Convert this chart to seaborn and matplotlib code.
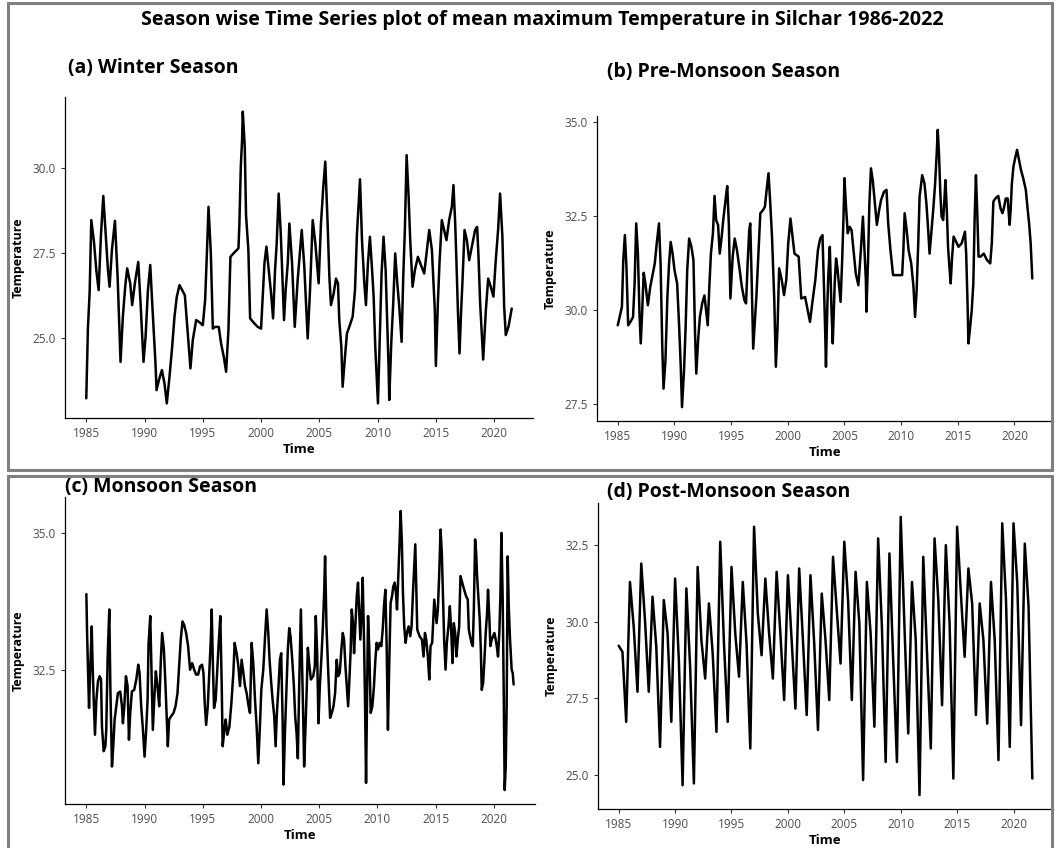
import numpy as np
import pandas as pd
import matplotlib
matplotlib.use("Agg")
import matplotlib.pyplot as plt
from matplotlib.ticker import MultipleLocator, FormatStrFormatter
from matplotlib.patches import Rectangle
import seaborn as sns

# Winter season
winter_year = [
    1985.00, 1985.14, 1985.29, 1985.43, 1985.66, 1985.86, 1986.06, 1986.26, 1986.46, 1986.66,
    1986.86, 1987.00, 1987.20, 1987.46, 1987.69, 1987.86, 1987.94, 1988.14, 1988.34, 1988.51,
    1988.77, 1988.94, 1989.17, 1989.46, 1989.66, 1989.91, 1990.09, 1990.29, 1990.49, 1990.66,
    1990.94, 1991.03, 1991.23, 1991.49, 1991.71, 1991.91, 1992.14, 1992.37, 1992.57, 1992.77,
    1993.00, 1993.23, 1993.46, 1993.69, 1993.94, 1994.14, 1994.43, 1994.66, 1995.00, 1995.20,
    1995.34, 1995.49, 1995.69, 1995.86, 1996.06, 1996.37, 1996.57, 1996.80, 1997.00, 1997.20,
    1997.37, 1997.63, 1998.06, 1998.14, 1998.26, 1998.37, 1998.43, 1998.60, 1998.71, 1998.91,
    1999.06, 1999.43, 1999.71, 2000.00, 2000.14, 2000.29, 2000.46, 2000.66, 2000.86, 2001.03,
    2001.20, 2001.34, 2001.51, 2001.69, 2001.83, 2001.97, 2002.11, 2002.29, 2002.43, 2002.66,
    2002.89, 2003.14, 2003.49, 2003.71, 2004.00, 2004.20, 2004.43, 2004.66, 2004.94, 2005.14,
    2005.34, 2005.51, 2005.71, 2005.86, 2006.00, 2006.23, 2006.43, 2006.60, 2006.71, 2006.89,
    2007.00, 2007.20, 2007.37, 2007.57, 2007.86, 2008.06, 2008.23, 2008.37, 2008.49, 2008.66,
    2008.86, 2009.00, 2009.17, 2009.34, 2009.51, 2009.66, 2009.80, 2009.91, 2010.03, 2010.20,
    2010.34, 2010.51, 2010.69, 2010.83, 2010.94, 2011.00, 2011.17, 2011.34, 2011.51, 2011.69,
    2011.86, 2012.06, 2012.20, 2012.34, 2012.49, 2012.66, 2012.80, 2013.00, 2013.20, 2013.46,
    2013.66, 2014.00, 2014.20, 2014.43, 2014.66, 2014.80, 2014.91, 2015.00, 2015.17, 2015.31,
    2015.51, 2015.71, 2015.91, 2016.14, 2016.37, 2016.51, 2016.66, 2016.77, 2016.89, 2017.03,
    2017.17, 2017.29, 2017.46, 2017.66, 2017.86, 2018.14, 2018.37, 2018.54, 2018.66, 2018.80,
    2018.94, 2019.06, 2019.29, 2019.49, 2019.71, 2019.94, 2020.14, 2020.34, 2020.51, 2020.71,
    2020.86, 2021.00, 2021.23, 2021.51,
]
winter_temp = [
    23.24, 25.29, 26.37, 28.48, 27.84, 27.01, 26.42, 28.04, 29.19, 28.09,
    27.01, 26.52, 27.60, 28.46, 26.81, 25.15, 24.31, 25.64, 26.52, 27.06,
    26.62, 25.98, 26.62, 27.25, 26.03, 24.31, 25.05, 26.42, 27.16, 26.03,
    24.26, 23.48, 23.77, 24.07, 23.68, 23.09, 23.87, 24.75, 25.64, 26.23,
    26.57, 26.42, 26.27, 25.25, 24.12, 24.95, 25.54, 25.49, 25.39, 26.13,
    27.40, 28.87, 27.50, 25.29, 25.34, 25.34, 24.85, 24.46, 24.02, 25.25,
    27.40, 27.50, 27.65, 28.38, 30.05, 30.83, 31.67, 30.64, 28.63, 27.60,
    25.59, 25.44, 25.34, 25.29, 26.23, 27.21, 27.70, 27.01, 26.32, 25.59,
    27.01, 27.79, 29.26, 28.09, 26.81, 25.54, 26.42, 27.21, 28.38, 27.21,
    25.34, 26.72, 28.19, 27.11, 25.00, 26.42, 28.48, 27.79, 26.62, 28.38,
    29.46, 30.20, 28.38, 26.81, 25.98, 26.32, 26.76, 26.62, 25.54, 24.75,
    23.58, 24.46, 25.15, 25.34, 25.64, 26.42, 28.09, 28.97, 29.68, 27.89,
    26.62, 25.98, 27.21, 27.99, 27.11, 26.23, 24.75, 23.97, 23.09, 25.25,
    26.91, 27.99, 27.01, 25.44, 24.17, 23.19, 24.85, 26.03, 27.50, 26.62,
    25.93, 24.90, 26.81, 28.19, 30.39, 29.17, 27.89, 26.52, 27.01, 27.40,
    27.21, 26.91, 27.50, 28.19, 27.60, 26.62, 25.83, 24.19, 26.03, 27.21,
    28.48, 28.19, 27.89, 28.48, 28.87, 29.51, 28.38, 27.21, 25.83, 24.56,
    25.83, 26.72, 28.19, 27.89, 27.30, 27.79, 28.19, 28.28, 27.40, 26.03,
    25.15, 24.38, 25.83, 26.76, 26.52, 26.23, 27.30, 28.19, 29.26, 27.99,
    25.93, 25.10, 25.34, 25.88,
]

# Pre-monsoon season
pre_year = [
    1985.00, 1985.14, 1985.37, 1985.49, 1985.63, 1985.77, 1985.92, 1986.12, 1986.35, 1986.49,
    1986.63, 1986.78, 1986.92, 1987.03, 1987.15, 1987.29, 1987.44, 1987.66, 1987.87, 1988.07,
    1988.27, 1988.44, 1988.64, 1988.78, 1988.93, 1989.04, 1989.21, 1989.38, 1989.53, 1989.67,
    1989.84, 1990.01, 1990.24, 1990.42, 1990.56, 1990.67, 1990.85, 1990.99, 1991.13, 1991.30,
    1991.50, 1991.68, 1991.82, 1991.93, 1992.11, 1992.25, 1992.45, 1992.65, 1992.79, 1992.94,
    1993.08, 1993.22, 1993.40, 1993.54, 1993.68, 1993.85, 1994.00, 1994.17, 1994.31, 1994.51,
    1994.66, 1994.80, 1994.94, 1995.14, 1995.32, 1995.52, 1995.72, 1995.95, 1996.17, 1996.32,
    1996.46, 1996.60, 1996.69, 1996.81, 1996.95, 1997.09, 1997.23, 1997.41, 1997.58, 1997.81,
    1997.98, 1998.15, 1998.30, 1998.44, 1998.61, 1998.81, 1998.95, 1999.10, 1999.24, 1999.47,
    1999.67, 1999.87, 2000.04, 2000.24, 2000.59, 2000.96, 2001.19, 2001.53, 2001.76, 2001.96,
    2002.16, 2002.43, 2002.66, 2002.86, 2003.06, 2003.17, 2003.29, 2003.37, 2003.49, 2003.57,
    2003.71, 2003.86, 2003.97, 2004.14, 2004.26, 2004.37, 2004.51, 2004.66, 2004.80, 2004.91,
    2005.00, 2005.14, 2005.29, 2005.46, 2005.63, 2005.80, 2006.00, 2006.23, 2006.43, 2006.63,
    2006.77, 2006.89, 2006.94, 2007.09, 2007.20, 2007.34, 2007.51, 2007.66, 2007.86, 2008.06,
    2008.23, 2008.49, 2008.71, 2008.86, 2009.06, 2009.29, 2009.57, 2009.91, 2010.09, 2010.20,
    2010.31, 2010.49, 2010.66, 2010.89, 2011.09, 2011.23, 2011.37, 2011.51, 2011.63, 2011.86,
    2012.06, 2012.23, 2012.37, 2012.51, 2012.66, 2012.83, 2013.00, 2013.14, 2013.23, 2013.34,
    2013.46, 2013.57, 2013.71, 2013.80, 2013.91, 2014.03, 2014.14, 2014.26, 2014.37, 2014.49,
    2014.63, 2014.86, 2015.06, 2015.34, 2015.51, 2015.63, 2015.74, 2015.86, 2015.94, 2016.09,
    2016.23, 2016.37, 2016.49, 2016.60, 2016.71, 2016.83, 2017.00, 2017.29, 2017.57, 2017.86,
    2018.00, 2018.14, 2018.31, 2018.57, 2018.77, 2018.94, 2019.09, 2019.23, 2019.40, 2019.57,
    2019.66, 2019.77, 2019.91, 2020.06, 2020.23, 2020.37, 2020.57, 2020.77, 2021.00, 2021.14,
    2021.29, 2021.43, 2021.57,
]
pre_temp = [
    29.60, 29.78, 30.09, 31.33, 31.99, 31.15, 29.60, 29.69, 29.82, 30.71,
    32.30, 31.50, 29.91, 29.12, 29.91, 30.99, 30.71, 30.13, 30.62, 30.93,
    31.24, 31.77, 32.30, 31.24, 29.03, 27.92, 28.67, 30.35, 31.24, 31.81,
    31.50, 31.06, 30.71, 29.56, 28.50, 27.43, 28.41, 29.56, 31.06, 31.90,
    31.68, 31.33, 29.38, 28.32, 29.29, 29.82, 30.18, 30.39, 30.00, 29.60,
    30.62, 31.50, 32.04, 33.03, 32.39, 32.26, 31.50, 31.95, 32.39, 32.92,
    33.29, 32.30, 30.31, 31.42, 31.90, 31.59, 31.15, 30.62, 30.27, 30.18,
    31.24, 32.12, 32.30, 30.88, 28.98, 29.65, 30.35, 31.50, 32.57, 32.65,
    32.74, 33.23, 33.63, 32.92, 31.95, 30.27, 28.50, 29.56, 31.11, 30.80,
    30.40, 30.80, 31.77, 32.43, 31.50, 31.42, 30.31, 30.35, 30.00, 29.69,
    30.18, 30.80, 31.59, 31.90, 31.99, 30.88, 29.56, 28.50, 30.09, 30.88,
    31.68, 30.00, 29.12, 30.71, 31.37, 31.15, 30.71, 30.22, 31.33, 32.39,
    33.50, 32.74, 32.04, 32.21, 32.12, 31.59, 30.97, 30.66, 31.50, 32.48,
    31.59, 30.80, 29.96, 31.42, 32.83, 33.76, 33.41, 32.92, 32.26, 32.65,
    32.92, 33.14, 33.19, 32.30, 31.59, 30.93, 30.93, 30.93, 30.93, 31.59,
    32.57, 32.12, 31.59, 31.24, 30.62, 29.82, 30.53, 31.77, 33.01, 33.58,
    33.36, 32.83, 32.21, 31.50, 32.04, 32.65, 33.36, 34.16, 34.78, 34.16,
    33.10, 32.48, 32.39, 32.83, 33.45, 32.65, 31.68, 31.15, 30.71, 31.37,
    31.95, 31.81, 31.68, 31.77, 31.95, 32.08, 31.50, 30.18, 29.12, 29.56,
    30.00, 30.71, 32.48, 33.58, 32.65, 31.42, 31.42, 31.50, 31.33, 31.24,
    31.77, 32.88, 32.96, 33.03, 32.70, 32.57, 32.74, 32.96, 32.96, 32.26,
    32.65, 33.36, 33.81, 34.03, 34.25, 34.03, 33.72, 33.50, 33.19, 32.74,
    32.30, 31.77, 30.84,
]

# Monsoon season
mon_year = [
    1985.00, 1985.06, 1985.14, 1985.23, 1985.34, 1985.46, 1985.54, 1985.63, 1985.74, 1985.86,
    1986.00, 1986.14, 1986.26, 1986.34, 1986.49, 1986.63, 1986.71, 1986.83, 1986.97, 1987.06,
    1987.20, 1987.31, 1987.43, 1987.57, 1987.71, 1987.91, 1988.06, 1988.14, 1988.26, 1988.40,
    1988.54, 1988.66, 1988.77, 1988.91, 1989.11, 1989.29, 1989.46, 1989.57, 1989.71, 1989.86,
    1990.00, 1990.14, 1990.26, 1990.34, 1990.49, 1990.57, 1990.71, 1990.86, 1990.97, 1991.11,
    1991.26, 1991.40, 1991.51, 1991.66, 1991.80, 1991.91, 1992.00, 1992.11, 1992.29, 1992.49,
    1992.66, 1992.83, 1992.97, 1993.11, 1993.26, 1993.40, 1993.57, 1993.74, 1993.91, 1994.09,
    1994.26, 1994.43, 1994.60, 1994.77, 1994.94, 1995.06, 1995.17, 1995.29, 1995.43, 1995.57,
    1995.69, 1995.77, 1995.86, 1995.97, 1996.11, 1996.23, 1996.37, 1996.51, 1996.63, 1996.71,
    1996.86, 1996.97, 1997.11, 1997.29, 1997.46, 1997.63, 1997.74, 1997.91, 1998.06, 1998.20,
    1998.34, 1998.49, 1998.63, 1998.77, 1998.94, 1999.06, 1999.20, 1999.34, 1999.49, 1999.63,
    1999.77, 1999.91, 2000.03, 2000.20, 2000.34, 2000.49, 2000.63, 2000.74, 2000.86, 2001.00,
    2001.14, 2001.26, 2001.37, 2001.51, 2001.63, 2001.74, 2001.86, 2001.94, 2002.06, 2002.20,
    2002.31, 2002.43, 2002.54, 2002.69, 2002.83, 2002.94, 2003.06, 2003.17, 2003.29, 2003.43,
    2003.54, 2003.63, 2003.71, 2003.83, 2003.94, 2004.03, 2004.14, 2004.29, 2004.49, 2004.63,
    2004.71, 2004.83, 2004.94, 2005.06, 2005.20, 2005.31, 2005.43, 2005.51, 2005.63, 2005.74,
    2005.86, 2005.94, 2006.09, 2006.23, 2006.37, 2006.51, 2006.63, 2006.77, 2006.91, 2007.03,
    2007.14, 2007.26, 2007.37, 2007.49, 2007.60, 2007.71, 2007.80, 2007.91, 2008.00, 2008.11,
    2008.23, 2008.34, 2008.43, 2008.54, 2008.66, 2008.74, 2008.86, 2008.94, 2009.03, 2009.11,
    2009.20, 2009.31, 2009.43, 2009.57, 2009.71, 2009.83, 2009.94, 2010.06, 2010.20, 2010.34,
    2010.46, 2010.57, 2010.69, 2010.80, 2010.91, 2011.03, 2011.14, 2011.26, 2011.37, 2011.49,
    2011.60, 2011.69, 2011.80, 2011.91, 2012.00, 2012.11, 2012.20, 2012.31, 2012.43, 2012.54,
    2012.69, 2012.83, 2012.94, 2013.06, 2013.17, 2013.26, 2013.34, 2013.43, 2013.63, 2013.83,
    2013.97, 2014.09, 2014.20, 2014.34, 2014.46, 2014.57, 2014.71, 2014.89, 2015.00, 2015.09,
    2015.20, 2015.31, 2015.43, 2015.54, 2015.63, 2015.74, 2015.86, 2015.97, 2016.11, 2016.23,
    2016.34, 2016.46, 2016.57, 2016.69, 2016.80, 2016.91, 2017.03, 2017.14, 2017.29, 2017.46,
    2017.63, 2017.77, 2017.86, 2017.97, 2018.09, 2018.20, 2018.29, 2018.40, 2018.49, 2018.57,
    2018.69, 2018.80, 2018.89, 2018.97, 2019.09, 2019.20, 2019.31, 2019.43, 2019.51, 2019.63,
    2019.71, 2019.83, 2019.94, 2020.06, 2020.17, 2020.26, 2020.37, 2020.49, 2020.57, 2020.66,
    2020.77, 2020.86, 2020.94, 2021.03, 2021.11, 2021.20, 2021.29, 2021.40, 2021.54, 2021.63,
    2021.71,
]
mon_temp = [
    33.88, 33.20, 32.50, 31.80, 32.56, 33.29, 32.56, 31.95, 31.31, 31.95,
    32.29, 32.38, 32.32, 31.46, 31.01, 31.10, 31.40, 32.74, 33.60, 32.20,
    30.73, 31.10, 31.59, 31.83, 32.07, 32.10, 31.83, 31.52, 31.83, 32.38,
    32.20, 31.22, 31.71, 32.10, 32.13, 32.32, 32.59, 32.44, 31.83, 31.40,
    30.91, 31.40, 31.95, 32.96, 33.48, 32.74, 31.40, 32.07, 32.47, 32.20,
    31.83, 32.68, 33.17, 32.87, 32.20, 31.59, 31.10, 31.59, 31.65, 31.71,
    31.83, 32.07, 32.56, 33.05, 33.38, 33.32, 33.17, 32.93, 32.50, 32.62,
    32.50, 32.41, 32.41, 32.56, 32.59, 32.44, 31.89, 31.49, 31.83, 32.50,
    33.05, 33.60, 32.68, 31.80, 31.95, 32.44, 32.99, 33.48, 32.20, 31.10,
    31.40, 31.59, 31.31, 31.46, 31.89, 32.44, 32.99, 32.80, 32.56, 32.20,
    32.68, 32.44, 32.20, 32.07, 31.83, 31.71, 32.99, 32.62, 31.95, 31.46,
    30.79, 31.46, 32.13, 32.50, 33.05, 33.60, 33.17, 32.68, 32.32, 31.95,
    31.65, 31.10, 31.71, 32.20, 32.68, 32.80, 31.59, 30.40, 31.34, 32.20,
    32.87, 33.26, 33.11, 32.68, 32.20, 31.65, 31.34, 30.88, 32.26, 33.60,
    32.56, 31.65, 30.73, 31.46, 32.20, 32.90, 32.62, 32.32, 32.38, 32.56,
    33.48, 32.80, 31.52, 32.20, 32.74, 33.23, 33.90, 34.57, 33.29, 32.68,
    32.07, 31.62, 31.71, 31.83, 32.07, 32.68, 32.38, 32.44, 32.87, 33.17,
    33.05, 32.56, 32.20, 31.83, 32.32, 32.87, 33.60, 33.35, 32.80, 33.29,
    33.84, 34.09, 33.60, 33.05, 33.60, 34.18, 32.99, 31.95, 30.43, 31.83,
    33.48, 32.87, 31.71, 31.83, 32.20, 32.68, 32.99, 32.87, 32.99, 32.93,
    33.23, 33.66, 33.96, 32.93, 31.40, 32.68, 33.72, 33.84, 34.02, 34.09,
    33.90, 33.60, 34.21, 34.82, 35.40, 34.82, 33.90, 33.29, 32.99, 33.17,
    33.29, 33.11, 33.29, 33.90, 34.39, 34.79, 34.09, 33.23, 33.11, 33.05,
    32.74, 33.17, 33.05, 32.74, 32.32, 32.93, 32.99, 33.78, 33.54, 33.35,
    33.60, 34.21, 35.06, 34.63, 33.90, 33.05, 32.50, 32.99, 33.29, 33.66,
    33.23, 32.62, 33.35, 33.17, 32.74, 33.05, 33.29, 34.21, 34.09, 33.96,
    33.84, 33.78, 33.23, 33.11, 32.99, 32.93, 33.60, 34.88, 34.63, 34.21,
    33.78, 33.41, 32.87, 32.13, 32.26, 32.68, 33.17, 33.54, 33.96, 33.41,
    32.93, 33.05, 33.11, 33.17, 33.05, 32.93, 32.74, 33.23, 33.84, 35.00,
    33.78, 32.07, 30.30, 30.73, 31.83, 34.57, 33.66, 33.05, 32.50, 32.44,
    32.23,
]

# Post-monsoon season: Oct, Nov, Dec of each year 1985-2021
post_temp = [
    29.22, 29.02, 26.74, 31.30, 29.84, 27.72, 31.90, 30.05, 27.72, 30.82, 29.18, 25.92,
    30.71, 29.62, 26.74, 31.41, 28.75, 24.67, 31.09, 28.53, 24.73, 31.79, 29.40, 28.15,
    30.60, 28.97, 26.41, 32.61, 29.29, 26.74, 31.79, 29.62, 28.21, 31.30, 29.29, 25.87,
    33.10, 30.27, 28.91, 31.41, 29.62, 28.15, 31.63, 29.62, 27.45, 31.52, 29.40, 27.17,
    31.74, 29.40, 26.96, 31.52, 29.29, 26.47, 30.92, 29.40, 27.45, 32.12, 30.38, 28.64,
    32.61, 30.71, 27.45, 31.63, 29.95, 24.84, 31.30, 29.62, 26.58, 32.72, 29.84, 25.43,
    32.23, 28.75, 25.43, 33.42, 29.84, 26.36, 31.30, 29.40, 24.35, 32.12, 28.97, 25.87,
    32.72, 30.71, 27.28, 32.50, 29.95, 24.89, 33.10, 30.92, 28.86, 31.74, 30.60, 26.96,
    30.60, 29.40, 26.68, 31.30, 29.40, 25.49, 33.21, 30.71, 25.92, 33.21, 31.25, 26.63,
    32.55, 30.49, 24.89,
]
post_year = 1985 + np.arange(len(post_temp)) / 3

main_title = "Season wise Time Series plot of mean maximum Temperature in Silchar 1986-2022"
panel_titles = ["(a) Winter Season", "(b) Pre-Monsoon Season",
                "(c) Monsoon Season", "(d) Post-Monsoon Season"]

sns.set_style("ticks")
plt.rcParams['font.family'] = ['Open Sans', 'DejaVu Sans']
plt.rcParams['text.color'] = 'black'
plt.rcParams['axes.labelcolor'] = 'black'

W, H = 1055, 848
fig = plt.figure(figsize=(W / 100, H / 100), dpi=100)


def box(l, t, r, b):
    return [l / W, 1 - b / H, (r - l) / W, (b - t) / H]


# grey frames around top and bottom halves
for (l, t, r, b) in [(8, 3, 1052, 470), (8, 476, 1052, 852)]:
    fig.patches.append(Rectangle((l / W, 1 - b / H), (r - l) / W, (b - t) / H,
                                 transform=fig.transFigure, fill=False,
                                 edgecolor="#808080", linewidth=2.2))

fig.text(542 / W, 1 - 20 / H, main_title, ha="center", va="center",
         fontsize=14.2, fontweight="bold", color="black")

panels = [
    (winter_year, winter_temp, box(65, 97, 533, 418), (68, 68)),
    (pre_year, pre_temp, box(597, 116, 1053, 421), (607, 72)),
    (mon_year, mon_temp, box(65, 497, 535, 804), (65, 487)),
    (post_year, post_temp, box(598, 503, 1053, 809), (607, 492)),
]

for (x, y, pos, (tx, ty)), title in zip(panels, panel_titles):
    ax = fig.add_axes(pos)
    df = pd.DataFrame({"Time": x, "Temperature": y})
    sns.lineplot(data=df, x="Time", y="Temperature", ax=ax, color="black",
                 linewidth=1.8, estimator=None)
    ax.margins(0.05)
    ax.xaxis.set_major_locator(MultipleLocator(5))
    ax.yaxis.set_major_locator(MultipleLocator(2.5))
    ax.yaxis.set_major_formatter(FormatStrFormatter("%.1f"))
    sns.despine(ax=ax)
    for s in ["left", "bottom"]:
        ax.spines[s].set_linewidth(0.9)
        ax.spines[s].set_color("black")
    ax.tick_params(labelsize=8.5, labelcolor="#4d4d4d", length=3, width=0.8, color="#333333")
    ax.set_xlabel("Time", fontsize=9.5, fontweight="bold", labelpad=2, color="black")
    ax.set_ylabel("Temperature", fontsize=9, fontweight="bold", labelpad=6, color="black")
    fig.text(tx / W, 1 - ty / H, title, ha="left", va="center",
             fontsize=14, fontweight="bold", color="black")

fig.savefig("out.png", dpi=100)
